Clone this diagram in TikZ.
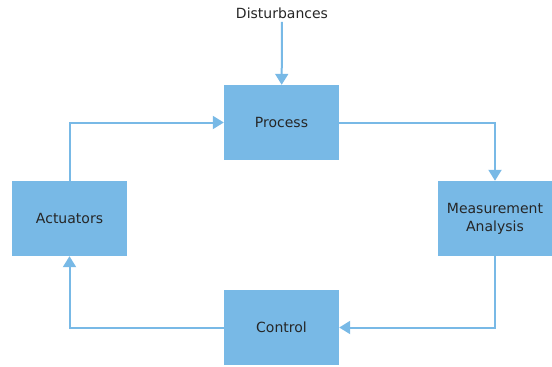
\documentclass[tikz,border=0pt]{standalone}
\usepackage{fontspec}
\setmainfont{DejaVu Sans}
\usetikzlibrary{arrows.meta,positioning}
\definecolor{boxblue}{HTML}{78B9E6}
\definecolor{textgray}{HTML}{262626}
\tikzset{
  block/.style={rectangle,fill=boxblue,minimum width=115pt,minimum height=75pt,
    inner sep=0pt,align=center,text=textgray,font=\fontsize{14}{18}\selectfont},
  flow/.style={draw=boxblue,line width=2pt,-{Triangle[width=13pt,length=11pt]}}
}
\begin{document}
\begin{tikzpicture}[x=1pt,y=-1pt]
	\useasboundingbox (0,0) rectangle (552,367);
	\node [block] at (281.5,122.5) (process) {Process};
	\node [block] at (69.5,218.5) (actuators) {Actuators};
	\node [block,minimum width=114pt] at (495,218.5) (measure) {Measurement\\Analysis};
	\node [block] at (281.5,327.5) (control) {Control};
	\node [text=textgray,font=\fontsize{14}{18}\selectfont] at (282,13) (dist) {Disturbances};
	% loop round the four blocks
	\draw [flow] (dist) -- (process);
	\draw [flow] (process.east) -| (measure.north);
	\draw [flow] (measure.south) |- (control.east);
	\draw [flow] (control.west) -| (actuators.south);
	\draw [flow] (actuators.north) |- (process.west);
\end{tikzpicture}
\end{document}
